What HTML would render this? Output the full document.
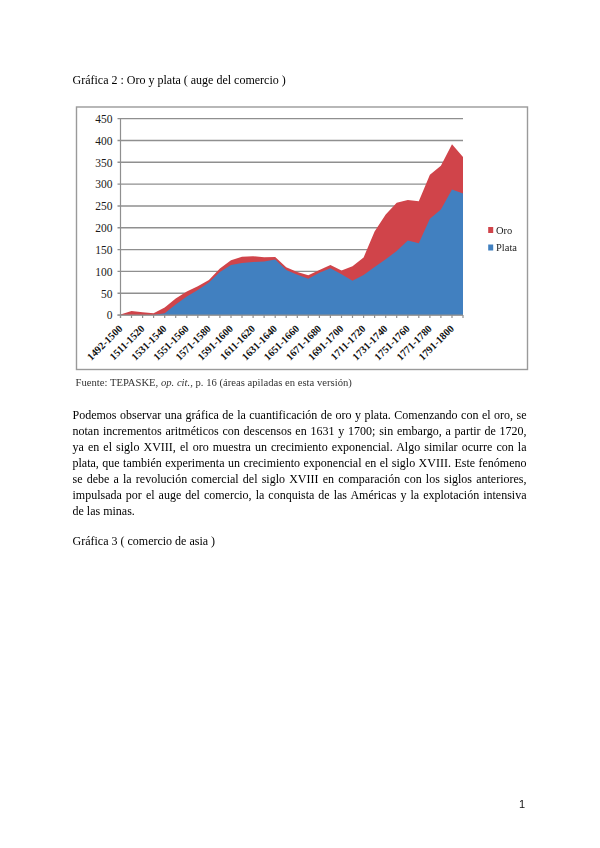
<!DOCTYPE html>
<html><head><meta charset="utf-8">
<style>
html,body{margin:0;padding:0;background:#fff;}
body{width:600px;height:848px;position:relative;overflow:hidden;font-family:"Liberation Serif",serif;color:#000;}
.t{position:absolute;white-space:nowrap;font-size:12px;line-height:16px;}
#p{position:absolute;left:72.5px;top:406.5px;width:454px;font-size:12px;line-height:16px;}
#p div{text-align:justify;text-align-last:justify;white-space:nowrap;}
#p div.l{text-align-last:left;}
svg{position:absolute;left:0;top:0;filter:blur(0.3px);}
#pn{position:absolute;left:519px;top:798px;font-family:"Liberation Sans",sans-serif;font-size:11px;line-height:13px;color:#111;}
</style></head><body>
<svg width="600" height="848" viewBox="0 0 600 848">
<rect x="76.5" y="107" width="451" height="262.5" fill="#fff" stroke="#9a9a9a" stroke-width="1.4"/>
<g stroke="#8f8f8f" stroke-width="1.4"><line x1="117.5" y1="315.1" x2="463" y2="315.1"/><line x1="117.5" y1="293.3" x2="463" y2="293.3"/><line x1="117.5" y1="271.4" x2="463" y2="271.4"/><line x1="117.5" y1="249.6" x2="463" y2="249.6"/><line x1="117.5" y1="227.8" x2="463" y2="227.8"/><line x1="117.5" y1="206" x2="463" y2="206"/><line x1="117.5" y1="184.1" x2="463" y2="184.1"/><line x1="117.5" y1="162.3" x2="463" y2="162.3"/><line x1="117.5" y1="140.5" x2="463" y2="140.5"/><line x1="117.5" y1="118.6" x2="463" y2="118.6"/></g>
<polygon points="120.5,314.6 131.5,311 142.6,312.3 153.6,313.2 164.7,307.5 175.7,298.5 186.8,291.5 197.8,286.3 208.9,280 219.9,268.5 231,260.2 242,256.8 253.1,256.3 264.1,257.2 275.2,257 286.2,267.3 297.3,272 308.3,275.3 319.4,270 330.4,265 341.5,270.4 352.5,266.2 363.6,257.5 374.6,231.5 385.7,214.5 396.7,202.8 407.8,200 418.8,201.3 429.9,174.8 440.9,165.8 452,144.2 463,157 463,315.1 120.5,315.1" fill="#d0444a"/>
<polygon points="120.5,315 131.5,315 142.6,315 153.6,315 164.7,313.3 175.7,304.5 186.8,296.5 197.8,290 208.9,282.5 219.9,272 231,265 242,263 253.1,262 264.1,261.5 275.2,259.5 286.2,270 297.3,274.7 308.3,278.7 319.4,272.7 330.4,268.3 341.5,274.3 352.5,280.8 363.6,275 374.6,267 385.7,259.3 396.7,251 407.8,240.5 418.8,243.3 429.9,218.8 440.9,209.5 452,189.5 463,193.5 463,315.1 120.5,315.1" fill="#4180c0"/>
<g stroke="#8f8f8f" stroke-width="1.2"><line x1="120.5" y1="315.1" x2="120.5" y2="318"/><line x1="131.5" y1="315.1" x2="131.5" y2="318"/><line x1="142.6" y1="315.1" x2="142.6" y2="318"/><line x1="153.6" y1="315.1" x2="153.6" y2="318"/><line x1="164.7" y1="315.1" x2="164.7" y2="318"/><line x1="175.7" y1="315.1" x2="175.7" y2="318"/><line x1="186.8" y1="315.1" x2="186.8" y2="318"/><line x1="197.8" y1="315.1" x2="197.8" y2="318"/><line x1="208.9" y1="315.1" x2="208.9" y2="318"/><line x1="219.9" y1="315.1" x2="219.9" y2="318"/><line x1="231" y1="315.1" x2="231" y2="318"/><line x1="242" y1="315.1" x2="242" y2="318"/><line x1="253.1" y1="315.1" x2="253.1" y2="318"/><line x1="264.1" y1="315.1" x2="264.1" y2="318"/><line x1="275.2" y1="315.1" x2="275.2" y2="318"/><line x1="286.2" y1="315.1" x2="286.2" y2="318"/><line x1="297.3" y1="315.1" x2="297.3" y2="318"/><line x1="308.3" y1="315.1" x2="308.3" y2="318"/><line x1="319.4" y1="315.1" x2="319.4" y2="318"/><line x1="330.4" y1="315.1" x2="330.4" y2="318"/><line x1="341.5" y1="315.1" x2="341.5" y2="318"/><line x1="352.5" y1="315.1" x2="352.5" y2="318"/><line x1="363.6" y1="315.1" x2="363.6" y2="318"/><line x1="374.6" y1="315.1" x2="374.6" y2="318"/><line x1="385.7" y1="315.1" x2="385.7" y2="318"/><line x1="396.7" y1="315.1" x2="396.7" y2="318"/><line x1="407.8" y1="315.1" x2="407.8" y2="318"/><line x1="418.8" y1="315.1" x2="418.8" y2="318"/><line x1="429.9" y1="315.1" x2="429.9" y2="318"/><line x1="440.9" y1="315.1" x2="440.9" y2="318"/><line x1="452" y1="315.1" x2="452" y2="318"/><line x1="463" y1="315.1" x2="463" y2="318"/><line x1="120.5" y1="118" x2="120.5" y2="318"/><line x1="117.5" y1="315" x2="463" y2="315"/></g>
<g font-family="Liberation Serif" font-size="11.5" fill="#1a1a1a" text-anchor="end"><text x="112.6" y="319.4">0</text><text x="112.6" y="297.6">50</text><text x="112.6" y="275.7">100</text><text x="112.6" y="253.9">150</text><text x="112.6" y="232.1">200</text><text x="112.6" y="210.3">250</text><text x="112.6" y="188.4">300</text><text x="112.6" y="166.6">350</text><text x="112.6" y="144.8">400</text><text x="112.6" y="122.9">450</text></g>
<g font-family="Liberation Serif" font-size="10.4" font-weight="bold" fill="#111" text-anchor="end"><text transform="translate(123.1,329.2) rotate(-45)">1492-1500</text><text transform="translate(145.2,329.2) rotate(-45)">1511-1520</text><text transform="translate(167.3,329.2) rotate(-45)">1531-1540</text><text transform="translate(189.4,329.2) rotate(-45)">1551-1560</text><text transform="translate(211.5,329.2) rotate(-45)">1571-1580</text><text transform="translate(233.6,329.2) rotate(-45)">1591-1600</text><text transform="translate(255.7,329.2) rotate(-45)">1611-1620</text><text transform="translate(277.8,329.2) rotate(-45)">1631-1640</text><text transform="translate(299.9,329.2) rotate(-45)">1651-1660</text><text transform="translate(322,329.2) rotate(-45)">1671-1680</text><text transform="translate(344.1,329.2) rotate(-45)">1691-1700</text><text transform="translate(366.2,329.2) rotate(-45)">1711-1720</text><text transform="translate(388.3,329.2) rotate(-45)">1731-1740</text><text transform="translate(410.4,329.2) rotate(-45)">1751-1760</text><text transform="translate(432.5,329.2) rotate(-45)">1771-1780</text><text transform="translate(454.6,329.2) rotate(-45)">1791-1800</text></g>
<rect x="488.2" y="227" width="5" height="6" fill="#d0444a"/>
<rect x="488.2" y="244.5" width="5" height="6" fill="#4180c0"/>
<g font-family="Liberation Serif" font-size="10.5" fill="#222"><text x="496" y="233.5">Oro</text><text x="496" y="250.5">Plata</text></g>
<text x="75.5" y="386.3" font-family="Liberation Serif" font-size="10.65" fill="#333">Fuente: TEPASKE, <tspan font-style="italic">op. cit.</tspan>, p. 16 (áreas apiladas en esta versión)</text>
</svg>
<div class="t" style="left:72.5px;top:72px;">Gráfica 2 : Oro y plata ( auge del comercio )</div>
<div id="p">
<div>Podemos observar una gráfica de la cuantificación de oro y plata. Comenzando con el oro, se</div>
<div>notan incrementos aritméticos con descensos en 1631 y 1700; sin embargo, a partir de 1720,</div>
<div>ya en el siglo XVIII, el oro muestra un crecimiento exponencial. Algo similar ocurre con la</div>
<div>plata, que también experimenta un crecimiento exponencial en el siglo XVIII. Este fenómeno</div>
<div>se debe a la revolución comercial del siglo XVIII en comparación con los siglos anteriores,</div>
<div>impulsada por el auge del comercio, la conquista de las Américas y la explotación intensiva</div>
<div class="l">de las minas.</div>
</div>
<div class="t" style="left:72.5px;top:533px;">Gráfica 3 ( comercio de asia )</div>
<div id="pn">1</div>
</body></html>
